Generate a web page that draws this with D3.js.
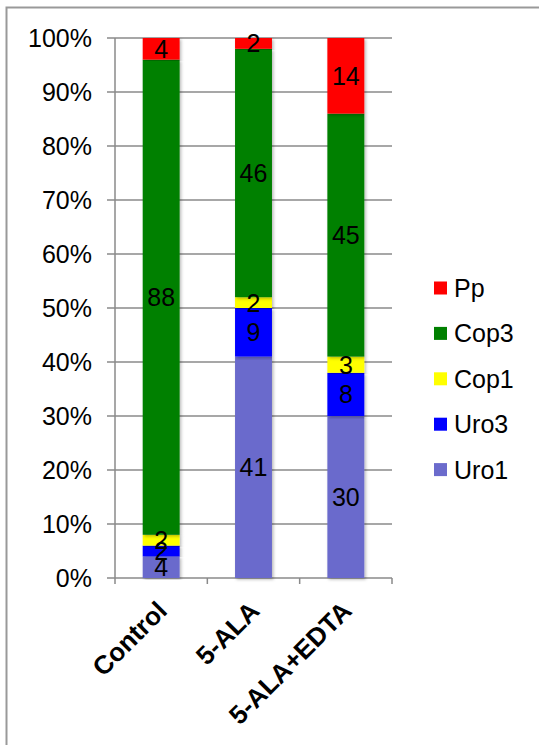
<!DOCTYPE html>
<html>
<head>
<meta charset="utf-8">
<script src="https://cdn.jsdelivr.net/npm/d3@7"></script>
<style>
  html, body { margin: 0; padding: 0; background: #fff; }
  svg { display: block; font-family: "Liberation Sans", Arial, sans-serif; }
</style>
</head>
<body>
<svg id="chart" width="539" height="745"></svg>
<script>
// Porphyrin composition (%) per treatment
const categories = ["Control", "5-ALA", "5-ALA+EDTA"];
const seriesKeys = ["Uro1", "Uro3", "Cop1", "Cop3", "Pp"];
const uro1 = [4, 41, 30];
const uro3 = [2, 9, 8];
const cop1 = [2, 2, 3];
const cop3 = [88, 46, 45];
const pp   = [4, 2, 14];
const yTicks = [0, 10, 20, 30, 40, 50, 60, 70, 80, 90, 100];
const colors = { Uro1: "#6b6bcc", Uro3: "#0000ff", Cop1: "#ffff00", Cop3: "#008000", Pp: "#ff0000" };
const legendOrder = ["Pp", "Cop3", "Cop1", "Uro3", "Uro1"];

const rows = categories.map((c, i) => ({
  cat: c, Uro1: uro1[i], Uro3: uro3[i], Cop1: cop1[i], Cop3: cop3[i], Pp: pp[i]
}));

const svg = d3.select("#chart");
const gridColor = "#8a8a8a";
const fs = 25;

// frame
svg.append("path")
  .attr("d", "M6.5,745 L6.5,7.5 L539,7.5")
  .attr("fill", "none").attr("stroke", "#999").attr("stroke-width", 2);

const defs = svg.append("defs");
const f = defs.append("filter").attr("id", "shadow")
  .attr("x", "-20%").attr("y", "-5%").attr("width", "150%").attr("height", "110%");
f.append("feDropShadow").attr("dx", 1.5).attr("dy", 1.5).attr("stdDeviation", 1.5)
  .attr("flood-color", "#000").attr("flood-opacity", 0.28);

const x0 = 115, x1 = 392;
const y = d3.scaleLinear().domain([0, 100]).range([578, 38]);
const x = d3.scaleBand().domain(categories).range([x0, x1])
  .paddingInner(0.6).paddingOuter(0.3);

// gridlines
svg.append("g").selectAll("line").data(yTicks).join("line")
  .attr("x1", 107).attr("x2", x1)
  .attr("y1", d => y(d)).attr("y2", d => y(d))
  .attr("stroke", gridColor).attr("stroke-width", 1.5);

// y axis line
svg.append("line").attr("x1", x0).attr("x2", x0).attr("y1", y(100)).attr("y2", y(0))
  .attr("stroke", gridColor).attr("stroke-width", 1.5);

// category tick marks
const step = x.step();
svg.append("g").selectAll("line").data(d3.range(categories.length + 1)).join("line")
  .attr("x1", i => x0 + i * step).attr("x2", i => x0 + i * step)
  .attr("y1", y(0)).attr("y2", y(0) + 6)
  .attr("stroke", gridColor).attr("stroke-width", 1.5);

// y tick labels
svg.append("g").selectAll("text").data(yTicks).join("text")
  .attr("x", 92).attr("y", d => y(d)).attr("dy", "0.36em")
  .attr("text-anchor", "end").attr("font-size", fs).attr("fill", "#000")
  .text(d => d + "%");

// stacked bars
const stacked = d3.stack().keys(seriesKeys)(rows);
const layers = svg.append("g").selectAll("g").data(stacked).join("g")
  .attr("fill", d => colors[d.key]);
layers.selectAll("rect").data(d => d).join("rect")
  .attr("x", d => x(d.data.cat))
  .attr("width", x.bandwidth())
  .attr("y", d => y(d[1]))
  .attr("height", d => y(d[0]) - y(d[1]))
  .attr("filter", "url(#shadow)");

// value labels
const labels = svg.append("g");
stacked.forEach(layer => {
  layer.forEach(d => {
    labels.append("text")
      .attr("x", x(d.data.cat) + x.bandwidth() / 2)
      .attr("y", y((d[0] + d[1]) / 2))
      .attr("dy", "0.36em")
      .attr("text-anchor", "middle")
      .attr("font-size", fs).attr("fill", "#000")
      .text(d.data[layer.key]);
  });
});

// category labels, rotated
svg.append("g").selectAll("text").data(categories).join("text")
  .attr("transform", d => `translate(${x(d) + x.bandwidth() / 2 + 1},${606}) rotate(-45)`)
  .attr("text-anchor", "end")
  .attr("dy", "0.35em")
  .attr("font-size", 26).attr("font-weight", "bold").attr("fill", "#000")
  .text(d => d);

// legend
const lg = svg.append("g").selectAll("g").data(legendOrder).join("g")
  .attr("transform", (d, i) => `translate(434,${288 + i * 45.4})`);
lg.append("rect").attr("x", 0).attr("y", -6.5).attr("width", 13).attr("height", 13)
  .attr("fill", d => colors[d]);
lg.append("text").attr("x", 20).attr("y", 0).attr("dy", "0.36em")
  .attr("font-size", fs).attr("fill", "#000").text(d => d);
</script>
</body>
</html>
